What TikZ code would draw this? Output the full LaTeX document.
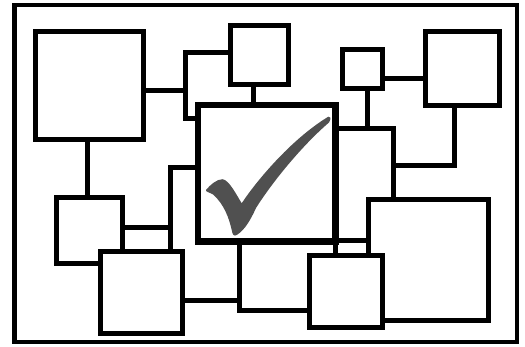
\documentclass[tikz,border=0pt]{standalone}
\usepackage{xcolor}
\usetikzlibrary{calc,backgrounds}
\definecolor{ink}{HTML}{000000}
\definecolor{cCheck}{HTML}{505050}
\tikzset{
  blk/.style  = {draw=ink, fill=white, line width=5pt, inner sep=0pt, outer sep=0pt},
  hub/.style  = {blk, line width=6.5pt},
  rim/.style  = {draw=ink, line width=4.5pt, inner sep=0pt, outer sep=0pt},
  wire/.style = {draw=ink, line width=5pt},
  chk/.style  = {fill=cCheck},
}

\begin{document}
\begin{tikzpicture}[x=1pt, y=-1pt]
  \useasboundingbox (0,0) rectangle (525,347);
  \node[rim, minimum width=502.3pt, minimum height=337pt] (frame) at (265.85,173.5) {};

  % boxes that sit partly behind others
  \node[blk, minimum width=67.2pt, minimum height=66pt] (m) at (219.4,85.8) {};
  \node[blk, minimum width=93.8pt, minimum height=112pt] (i) at (346.9,184.5) {};
  \node[blk, minimum width=95.9pt, minimum height=110.5pt] (f) at (287.75,255.25) {};
  \node[blk, minimum width=119.7pt, minimum height=120.7pt] (h) at (428.35,260.15) {};
  \node[blk, minimum width=72.7pt, minimum height=72.3pt] (g) at (345.85,291.65) {};
  \node[blk, minimum width=66.3pt, minimum height=66pt] (d) at (89.65,230.2) {};
  \node[blk, minimum width=81.7pt, minimum height=81.7pt] (e) at (141.65,292.35) {};

  \node[hub, minimum width=137.7pt, minimum height=136.3pt] (c) at (266.85,173.15) {};
  \node[blk, minimum width=107.4pt, minimum height=107.5pt] (a) at (89.5,85.45) {};
  \node[blk, minimum width=58pt, minimum height=58.4pt] (b) at (259.8,55) {};
  \node[blk, minimum width=39.4pt, minimum height=39pt] (j) at (362.5,68.7) {};
  \node[blk, minimum width=74pt, minimum height=74pt] (k) at (462.5,68.8) {};
  \coordinate (bend) at (170,167.5);

  \begin{scope}[on background layer]
    \draw[wire] (a.east |- 0,90.8) -- (m.west |- 0,90.8);
    \draw[wire] (a.south -| 87.2,0) -- (d.north -| 87.2,0);
    \draw[wire] (c.west |- bend) -| (e.north -| bend);
    \draw[wire] (d.east |- 0,227.2) -- (bend |- 0,227.2);
    \draw[wire] (e.east |- 0,300.5) -- (f.west |- 0,300.5);
    \draw[wire] (j.south -| 367,0) -- (i.north -| 367,0);
    \draw[wire] (j.east |- 0,78.5) -- (k.west |- 0,78.5);
    \draw[wire] ($(k.south)+(-8,0)$) |- (i.east |- 0,165.8);
  \end{scope}

  % tick mark
  \fill[chk] (206,190) .. controls (210,185) and (217,179) .. (222.5,179.2)
    .. controls (229,180) and (236,194) .. (241.7,203.3)
    .. controls (255,183) and (290,140) .. (328.3,116.7)
    .. controls (330.5,116) and (331.5,118) .. (329,122.5)
    .. controls (305,143) and (275,178) .. (256,208)
    .. controls (251,219) and (245,230) .. (236.7,235)
    .. controls (234,236.5) and (232.5,235) .. (231.7,230)
    .. controls (229,218) and (224,204) .. (213,194.5)
    .. controls (209,192) and (205.5,192) .. (206,190) -- cycle;
\end{tikzpicture}
\end{document}
